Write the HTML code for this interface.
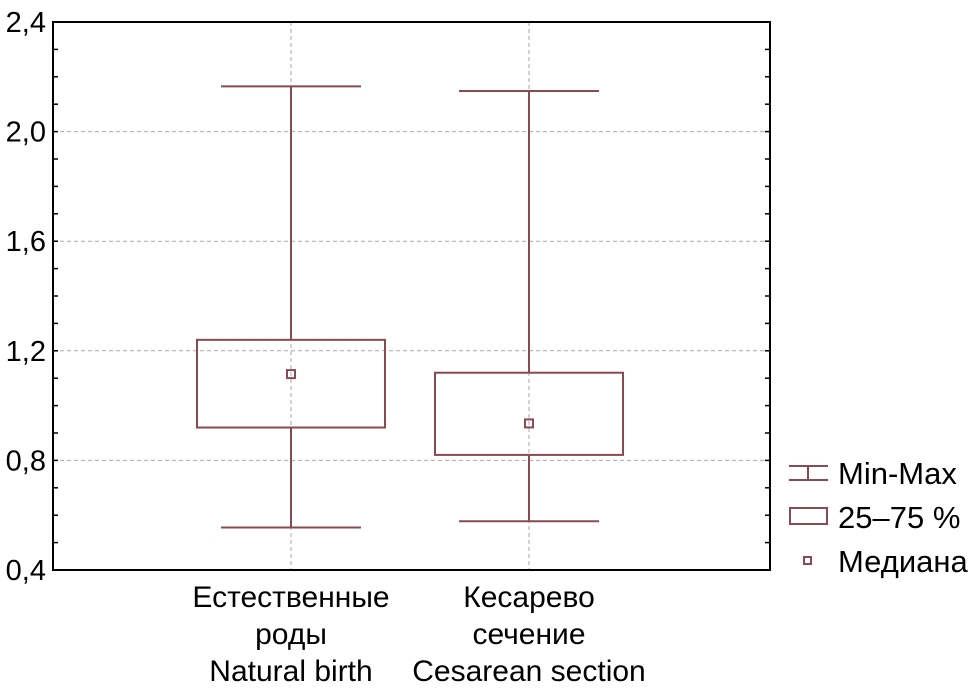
<!DOCTYPE html>
<html><head><meta charset="utf-8"><style>
body{margin:0;background:#fff;}
svg{display:block;font-family:"Liberation Sans","DejaVu Sans",sans-serif;}
</style></head><body>
<svg id="chart" width="971" height="697" viewBox="0 0 971 697" xmlns="http://www.w3.org/2000/svg"></svg>
<script>
const categories = [["Естественные","роды","Natural birth"],["Кесарево","сечение","Cesarean section"]];
const minVals = [0.555, 0.578];
const q1Vals = [0.92, 0.82];
const medianVals = [1.115, 0.935];
const q3Vals = [1.24, 1.12];
const maxVals = [2.165, 2.148];
const yTicks = [0.4, 0.8, 1.2, 1.6, 2.0, 2.4];
const yTickLabels = ["0,4","0,8","1,2","1,6","2,0","2,4"];

const svg = document.getElementById('chart');
const NS = 'http://www.w3.org/2000/svg';
const L=53, R=770, T=22, B=570, C='#8b4a52';
const y = v => B - (v-0.4)/2.0*(B-T);
const x = i => 291 + i*238;
function mk(tag, attrs, parent){const e=document.createElementNS(NS,tag);for(const k in attrs)e.setAttribute(k,attrs[k]);(parent||svg).appendChild(e);return e;}

yTicks.forEach((v,i)=>{
  if(i>0 && i<yTicks.length-1){
    const g=mk('line',{x1:L,x2:R,y1:y(v),y2:y(v),stroke:'#aaa','stroke-dasharray':'4,3','stroke-width':1});
    
    
  }
});
categories.forEach((c,i)=>{
  const g=mk('line',{x1:x(i),x2:x(i),y1:T,y2:B,stroke:'#aaa','stroke-dasharray':'4,3','stroke-width':1});
  
  
});
for(let k=0; k<=20; k++){
  const v=0.4+k*0.1;
  const t=mk('line',{x1:R-5,x2:R,y1:y(v),y2:y(v),stroke:'#000','stroke-width':1.5});
  
  
  const t2=mk('line',{x1:L,x2:L+5,y1:y(v),y2:y(v),stroke:'#000','stroke-width':1.5});
  
  
}
const fr=mk('rect',{x:L,y:T,width:R-L,height:B-T,fill:'none',stroke:'#000','stroke-width':2});


yTicks.forEach((v,i)=>{
  const tx=mk('text',{x:L-7,y:y(v)+10,'text-anchor':'end','font-size':29,fill:'#000'});
  tx.textContent=yTickLabels[i];
  
  
});
categories.forEach((c,i)=>{
  const cx=x(i), g=mk('g',{});
  
  
  mk('line',{x1:cx,x2:cx,y1:y(maxVals[i]),y2:y(q3Vals[i]),stroke:C,'stroke-width':2},g);
  mk('line',{x1:cx,x2:cx,y1:y(q1Vals[i]),y2:y(minVals[i]),stroke:C,'stroke-width':2},g);
  mk('line',{x1:cx-70,x2:cx+70,y1:y(maxVals[i]),y2:y(maxVals[i]),stroke:C,'stroke-width':2},g);
  mk('line',{x1:cx-70,x2:cx+70,y1:y(minVals[i]),y2:y(minVals[i]),stroke:C,'stroke-width':2},g);
  mk('rect',{x:cx-94,y:y(q3Vals[i]),width:188,height:y(q1Vals[i])-y(q3Vals[i]),fill:'none',stroke:C,'stroke-width':2},g);
  mk('rect',{x:cx-4,y:y(medianVals[i])-4,width:8,height:8,fill:'none',stroke:C,'stroke-width':2},g);
  c.forEach((line,j)=>{
    const t=mk('text',{x:cx,y:607+j*37,'text-anchor':'middle','font-size':30,fill:'#000'});
    t.textContent=line;
    
    
  });
});
const lg=mk('g',{});


mk('line',{x1:789,x2:828,y1:466,y2:466,stroke:C,'stroke-width':2},lg);
mk('line',{x1:789,x2:828,y1:480,y2:480,stroke:C,'stroke-width':2},lg);
mk('line',{x1:808,x2:808,y1:466,y2:480,stroke:C,'stroke-width':2},lg);
mk('rect',{x:790,y:508,width:37,height:16,fill:'none',stroke:C,'stroke-width':2},lg);
mk('rect',{x:804,y:557,width:7,height:7,fill:'none',stroke:C,'stroke-width':2},lg);
[["Min-Max",484],["25–75 %",528],["Медиана",572]].forEach(([s,yy])=>{
  const t=mk('text',{x:838,y:yy,'font-size':31,fill:'#000'},lg);
  t.textContent=s;
  
  
});
</script>
</body></html>
